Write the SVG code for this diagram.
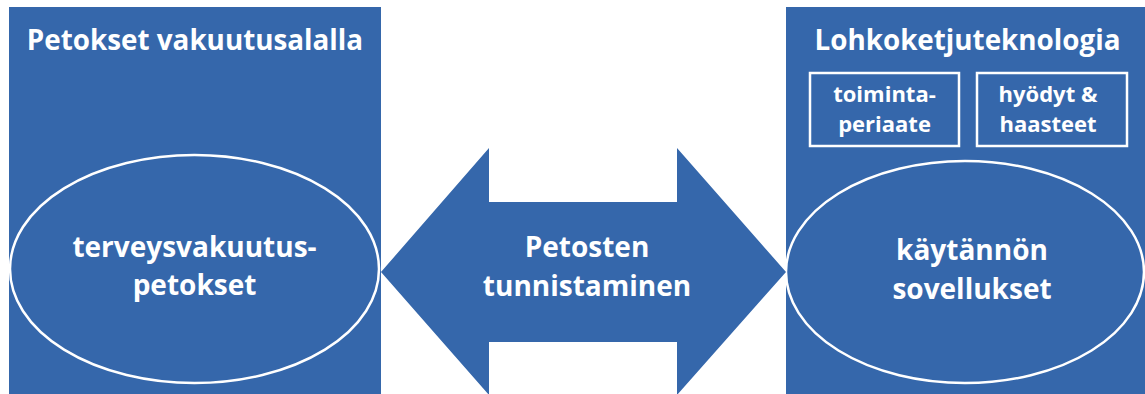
<svg xmlns="http://www.w3.org/2000/svg" width="1145" height="394" viewBox="0 0 1145 394">
<style>
.panel{fill:#3567ab}
.oval{fill:#3567ab;stroke:#fff;stroke-width:2.5}
.sub{fill:none;stroke:#fff;stroke-width:2.5}
text{font-family:"Open Sans","Noto Sans","Liberation Sans",sans-serif;font-weight:bold;fill:#fff;text-anchor:middle}
.t{font-size:27.8px}
.m{font-size:28px}
.s{font-size:22px}
</style>
<rect width="1145" height="394" fill="#fff"/>
<g id="left">
<rect class="panel" x="9" y="7" width="372" height="387"/>
<text class="t" x="195" y="50">Petokset vakuutusalalla</text>
</g>
<g id="left-oval">
<ellipse class="oval" cx="194.5" cy="269" rx="184.5" ry="114"/>
<text class="m" x="194.5" y="257">terveysvakuutus-</text>
<text class="m" x="194.5" y="295">petokset</text>
</g>
<g id="right">
<rect class="panel" x="786" y="7" width="359" height="387"/>
<text class="t" x="967.5" y="50">Lohkoketjuteknologia</text>
</g>
<g id="box1">
<rect class="sub" x="810" y="73" width="149" height="73"/>
<text class="s" x="884.5" y="102">toiminta-</text>
<text class="s" x="884.5" y="132">periaate</text>
</g>
<g id="box2">
<rect class="sub" x="977" y="73" width="150" height="73"/>
<text class="s" x="1048" y="102">hyödyt &amp;</text>
<text class="s" x="1048" y="132">haasteet</text>
</g>
<g id="right-oval">
<ellipse class="oval" cx="965" cy="272" rx="179" ry="111"/>
<text class="m" x="972" y="260">käytännön</text>
<text class="m" x="972" y="299">sovellukset</text>
</g>
<g id="connectors">
<polygon class="panel" points="381,272 489,148 489,202 677,202 677,148 786,272 677,395 677,342 489,342 489,395"/>
<text class="m" x="587" y="257">Petosten</text>
<text class="m" x="587" y="296">tunnistaminen</text>
</g>
</svg>
